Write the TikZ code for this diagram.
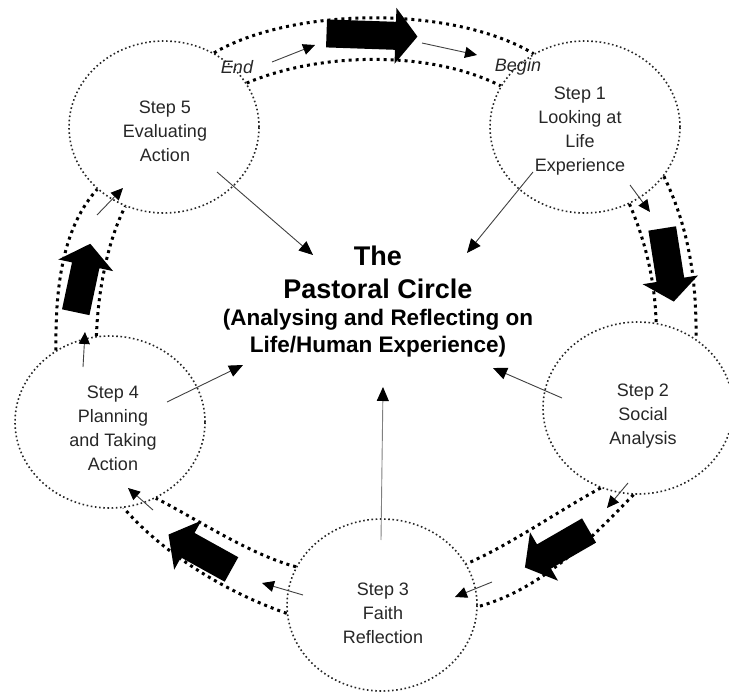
\documentclass[tikz,border=0pt]{standalone}
\usepackage{fontspec}
\setmainfont{Liberation Sans}
\usetikzlibrary{shapes.geometric,arrows.meta}

\begin{document}
\begin{tikzpicture}[x=1pt,y=-1pt]
% styles of the circle
\tikzset{
    stepring/.style={ellipse,draw=black!85,line width=1.6pt,dash pattern=on 1.6pt off 2.6pt,
        minimum width=190pt,minimum height=172pt,inner sep=0pt},
    steptext/.style={align=center,text=black!85,font=\fontsize{18}{24}\selectfont},
    flagtext/.style={text=black!85,font=\itshape\fontsize{18}{20}\selectfont},
    band/.style={line width=3pt,dash pattern=on 3pt off 4pt},
    toward/.style={line width=0.9pt,draw=black!75,-{Triangle[length=14pt,width=12pt,color=black]}},
    nudge/.style={line width=0.9pt,draw=black!75,-{Triangle[length=12pt,width=11pt,color=black]}},
    pics/bigarrow/.style={code={
        \fill (-#1/2,-14) -- (#1/2-22,-14) -- (#1/2-22,-28) -- (#1/2,0)
            -- (#1/2-22,28) -- (#1/2-22,14) -- (-#1/2,14) -- cycle;
    }}
}

\useasboundingbox (0,0) rectangle (729,698);

%% The five steps
\node[stepring] (step1) at (585,127) {};
\node[stepring] (step2) at (638,408) {};
\node[stepring] (step3) at (382,605) {};
\node[stepring] (step4) at (110,422) {};
\node[stepring] (step5) at (164,127) {};

\node[steptext] (step1txt) at (580,131) {Step 1\\Looking at\\Life\\Experience};
\node[steptext] (step2txt) at (643,416) {Step 2\\Social\\Analysis};
\node[steptext] (step3txt) at (383,613) {Step 3\\Faith\\Reflection};
\node[steptext] (step4txt) at (113,428) {Step 4\\Planning\\and Taking\\Action};
\node[steptext] (step5txt) at (165,131) {Step 5\\Evaluating\\Action};

% Centre title
\node[align=center,font=\bfseries\fontsize{22.5}{27}\selectfont] (title) at (378,302)
    {{\fontsize{27}{30}\selectfont The}\\[6pt]{\fontsize{27}{30}\selectfont Pastoral Circle}\\
     (Analysing and Reflecting on\\Life/Human Experience)};

% Begin / End
\node[flagtext] (endlbl) at (237,67) {End};
\node[flagtext] (beginlbl) at (518,67) {Begin};

%% Bands between the steps
\draw[band] (step5.56) .. controls (290,8) and (450,4) .. (step1.125);
\draw[band] (step5.28) .. controls (320,52) and (430,50) .. (step1.154);
\draw[band] (step1.-32) .. controls (685,220) and (697,270) .. (step2.50);
\draw[band] (step1.-60) .. controls (645,240) and (655,280) .. (step2.78);
\draw[band] (step2.-115) .. controls (560,510) and (510,545) .. (step3.26);
\draw[band] (step2.-93) .. controls (590,540) and (540,590) .. (step3.-1);
\draw[band] (step3.156) .. controls (250,555) and (190,515) .. (step4.-59);
\draw[band] (step3.-175) .. controls (220,590) and (160,550) .. (step4.-81);
\draw[band] (step4.127) .. controls (55,280) and (65,225) .. (step5.-137);
\draw[band] (step4.99) .. controls (98,290) and (108,240) .. (step5.-116);

% Block arrows in the bands
\pic[rotate=-2] (arr51) at (372,35) {bigarrow=91};
\pic[rotate=-81] (arr12) at (668,265) {bigarrow=74};
\pic[rotate=210] (arr23) at (557,549) {bigarrow=74};
\pic[rotate=151] (arr34) at (200,552) {bigarrow=72};
\pic[rotate=78] (arr45) at (83,278) {bigarrow=70};

% Small arrows at the band ends
\foreach \a/\b in {{(272,62)}/{(315,45)}, {(422,43)}/{(477,55)}, {(630,185)}/{(650,212)},
    {(628,483)}/{(607,508)}, {(492,582)}/{(455,597)}, {(303,595)}/{(262,583)},
    {(153,510)}/{(128,488)}, {(83,367)}/{(85,332)}, {(97,215)}/{(123,188)}}{
    \draw[nudge] \a -- \b;
}

%% Arrows to the title
\coordinate (tail1) at (533,172);
\coordinate (tail2) at (562,398);
\coordinate (tail3) at (381,540);
\coordinate (tail4) at (167,402);
\coordinate (tail5) at (217,172);
\coordinate (head1) at (467,253);
\coordinate (head2) at (493,368);
\coordinate (head3) at (383,387);
\coordinate (head4) at (243,365);
\coordinate (head5) at (313,255);
\foreach \i in {1,2,4,5}{
    \draw[toward] (tail\i) -- (head\i);
}
\draw[toward,draw=black!50] (tail3) -- (head3);

\end{tikzpicture}
\end{document}
